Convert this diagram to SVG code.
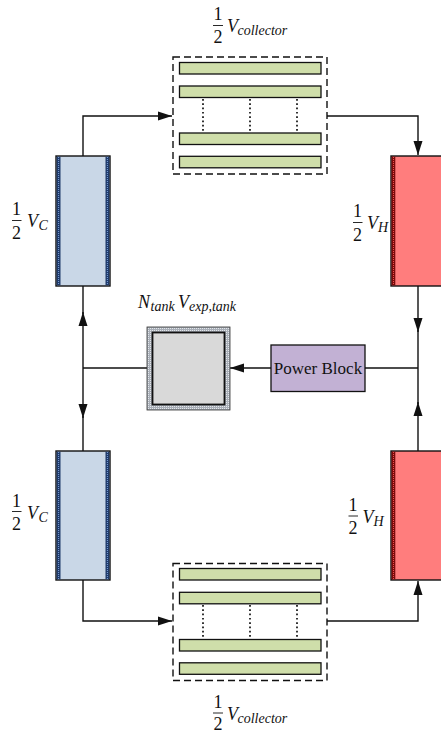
<svg xmlns="http://www.w3.org/2000/svg" width="441" height="736" viewBox="0 0 441 736">
<style>
.math{font-family:"Liberation Serif","DejaVu Serif",serif;font-size:18px;fill:#111}
.it{font-style:italic}
.sub{font-family:"Liberation Serif","DejaVu Serif",serif;font-size:14px;font-style:italic;fill:#111}
.num{text-anchor:middle}
.fbar{stroke:#111;stroke-width:0.9}
.conn{fill:none;stroke:#111;stroke-width:1.4}
.bar{fill:#cfdeaa;stroke:#111;stroke-width:1.3}
.dash{fill:none;stroke:#111;stroke-width:1.4;stroke-dasharray:7,4}
.dots{stroke:#111;stroke-width:1.7;stroke-dasharray:1.7,2.6}
.cold{fill:#c9d7e7;stroke:#111;stroke-width:1.4}
.coldstrip{fill:#1f3a6a}
.colddot{stroke:#7ea4dc;stroke-width:1;stroke-dasharray:1,1}
.hot{fill:#ff7d7d;stroke:#111;stroke-width:1.4}
.hotstrip{fill:#7a0a0a}
.hotdot{stroke:#f05050;stroke-width:1;stroke-dasharray:1,1}
</style>
<defs>
<marker id="arr" markerWidth="14" markerHeight="10" refX="14" refY="5" orient="auto" markerUnits="userSpaceOnUse">
<path d="M0,0.5 L14,5 L0,9.5 Z" fill="#111"/>
</marker>
<pattern id="hatch" width="2" height="2" patternUnits="userSpaceOnUse">
<rect width="2" height="2" fill="#a9afb8"/>
<rect width="1" height="1" fill="#e4e7eb"/>
</pattern>
</defs>

<g id="connectors">
<path class="conn" d="M83 156 V116 H172" marker-end="url(#arr)"/>
<path class="conn" d="M327 116 H418 V155" marker-end="url(#arr)"/>
<path class="conn" d="M418 286 V332" marker-end="url(#arr)"/>
<path class="conn" d="M418 330 V368"/>
<path class="conn" d="M418 451 V402" marker-end="url(#arr)"/>
<path class="conn" d="M418 404 V368"/>
<path class="conn" d="M365 368 H418"/>
<path class="conn" d="M271 368 H230" marker-end="url(#arr)"/>
<path class="conn" d="M147 368 H83"/>
<path class="conn" d="M83 368 V312" marker-end="url(#arr)"/>
<path class="conn" d="M83 314 V286"/>
<path class="conn" d="M83 368 V418" marker-end="url(#arr)"/>
<path class="conn" d="M83 416 V451"/>
<path class="conn" d="M83 580 V621 H172" marker-end="url(#arr)"/>
<path class="conn" d="M327 621 H418 V581" marker-end="url(#arr)"/>
</g>

<g id="collector-top">
<rect class="dash" x="173" y="57" width="154" height="117"/>
<rect class="bar" x="179.5" y="62.5" width="141.5" height="11.5"/>
<rect class="bar" x="179.5" y="86" width="141.5" height="11.5"/>
<rect class="bar" x="179.5" y="133" width="141.5" height="11.5"/>
<rect class="bar" x="179.5" y="156.3" width="141.5" height="11.5"/>
<line class="dots" x1="203" y1="99" x2="203" y2="132"/>
<line class="dots" x1="250" y1="99" x2="250" y2="132"/>
<line class="dots" x1="297" y1="99" x2="297" y2="132"/>
<text class="math num" x="218" y="20">1</text>
<line class="fbar" x1="213" y1="25.5" x2="223" y2="25.5"/>
<text class="math num" x="218" y="42.5">2</text>
<text class="math it" x="227" y="32">V</text>
<text class="sub" x="237.5" y="35">collector</text>
</g>

<g id="collector-bottom">
<rect class="dash" x="173" y="563.5" width="154" height="117"/>
<rect class="bar" x="179.5" y="568.5" width="141.5" height="11.5"/>
<rect class="bar" x="179.5" y="592.3" width="141.5" height="11.5"/>
<rect class="bar" x="179.5" y="639.5" width="141.5" height="11.5"/>
<rect class="bar" x="179.5" y="662.8" width="141.5" height="11.5"/>
<line class="dots" x1="203" y1="605" x2="203" y2="638"/>
<line class="dots" x1="250" y1="605" x2="250" y2="638"/>
<line class="dots" x1="297" y1="605" x2="297" y2="638"/>
<text class="math num" x="218" y="708">1</text>
<line class="fbar" x1="213" y1="713" x2="223" y2="713"/>
<text class="math num" x="218" y="730">2</text>
<text class="math it" x="227" y="720">V</text>
<text class="sub" x="237.5" y="723">collector</text>
</g>

<g id="cold-top">
<rect class="cold" x="56" y="156" width="54" height="130"/>
<rect class="coldstrip" x="56.7" y="156.7" width="3.8" height="128.6"/>
<line class="colddot" x1="58.6" y1="157" x2="58.6" y2="285"/>
<rect class="coldstrip" x="105.5" y="156.7" width="3.8" height="128.6"/>
<line class="colddot" x1="107.4" y1="157" x2="107.4" y2="285"/>
<text class="math num" x="16.5" y="215">1</text>
<line class="fbar" x1="12" y1="220.5" x2="21.5" y2="220.5"/>
<text class="math num" x="16.5" y="239">2</text>
<text class="math it" x="27" y="227">V</text>
<text class="sub" x="38.5" y="230">C</text>
</g>

<g id="cold-bottom">
<rect class="cold" x="56" y="451" width="54" height="129"/>
<rect class="coldstrip" x="56.7" y="451.7" width="3.8" height="127.6"/>
<line class="colddot" x1="58.6" y1="452" x2="58.6" y2="579"/>
<rect class="coldstrip" x="105.5" y="451.7" width="3.8" height="127.6"/>
<line class="colddot" x1="107.4" y1="452" x2="107.4" y2="579"/>
<text class="math num" x="16.5" y="506.5">1</text>
<line class="fbar" x1="12" y1="511.5" x2="21.5" y2="511.5"/>
<text class="math num" x="16.5" y="530">2</text>
<text class="math it" x="27" y="519">V</text>
<text class="sub" x="38.5" y="522">C</text>
</g>

<g id="hot-top">
<rect class="hot" x="391" y="156" width="54" height="130"/>
<rect class="hotstrip" x="391.7" y="156.7" width="3.6" height="128.6"/>
<line class="hotdot" x1="393.5" y1="157" x2="393.5" y2="285"/>
<text class="math num" x="357.5" y="217">1</text>
<line class="fbar" x1="353" y1="222.5" x2="362.5" y2="222.5"/>
<text class="math num" x="357.5" y="241">2</text>
<text class="math it" x="367" y="229">V</text>
<text class="sub" x="378" y="232">H</text>
</g>

<g id="hot-bottom">
<rect class="hot" x="391" y="451" width="54" height="129"/>
<rect class="hotstrip" x="391.7" y="451.7" width="3.6" height="127.6"/>
<line class="hotdot" x1="393.5" y1="452" x2="393.5" y2="579"/>
<text class="math num" x="353" y="511">1</text>
<line class="fbar" x1="348.5" y1="516" x2="358" y2="516"/>
<text class="math num" x="353" y="534">2</text>
<text class="math it" x="362.5" y="522.5">V</text>
<text class="sub" x="373.5" y="525.5">H</text>
</g>

<g id="tank">
<rect x="147" y="327" width="83" height="83" fill="url(#hatch)" stroke="#333" stroke-width="0.8"/>
<rect x="152.5" y="332.5" width="72" height="72" fill="#d9d9d9" stroke="#111" stroke-width="1.8"/>
<text class="math it" x="138" y="308">N</text>
<text class="sub" x="150.5" y="311">tank</text>
<text class="math it" x="178" y="308">V</text>
<text class="sub" x="189" y="311">exp,tank</text>
</g>

<g id="power-block">
<rect x="271" y="345" width="94" height="46.5" fill="#c2b1d4" stroke="#111" stroke-width="1.3"/>
<text x="318" y="374" text-anchor="middle" font-family="Liberation Serif, serif" font-size="17" fill="#111">Power Block</text>
</g>
</svg>
